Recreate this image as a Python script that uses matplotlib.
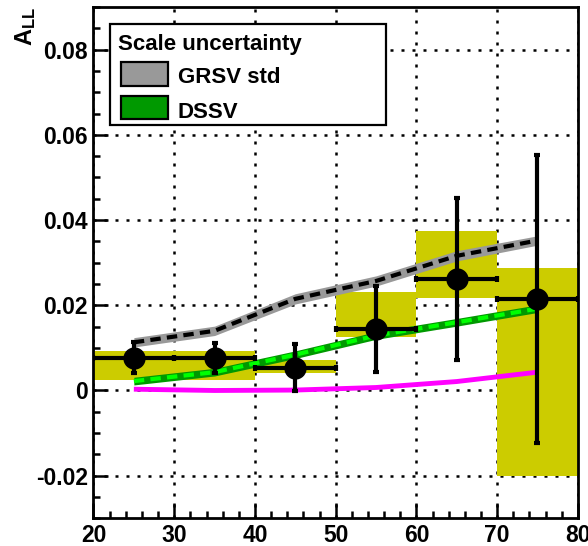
import matplotlib
matplotlib.use("Agg")
import matplotlib.pyplot as plt
from matplotlib.patches import Rectangle
from matplotlib.ticker import MultipleLocator, FuncFormatter

plt.rcParams["font.family"] = ["Liberation Sans", "DejaVu Sans"]
plt.rcParams["font.weight"] = "bold"
plt.rcParams["mathtext.fontset"] = "custom"
plt.rcParams["mathtext.bf"] = "Liberation Sans:bold"
plt.rcParams["mathtext.rm"] = "Liberation Sans:bold"

# measured asymmetry per bin
bin_x = [25, 35, 45, 55, 65, 75]
bin_half = [5, 5, 5, 5, 5, 5]
a_ll = [0.0077, 0.0076, 0.0053, 0.0145, 0.0262, 0.0214]
stat_err = [0.0037, 0.0036, 0.0055, 0.0101, 0.0190, 0.0338]
sys_lo = [0.0025, 0.0025, 0.0040, 0.0125, 0.0218, -0.0200]
sys_hi = [0.0092, 0.0092, 0.0072, 0.0230, 0.0374, 0.0287]

# theory curves
grsv = [0.0113, 0.0140, 0.0215, 0.0257, 0.0316, 0.0352]
grsv_lo = [0.0102, 0.0129, 0.0203, 0.0245, 0.0304, 0.0341]
grsv_hi = [0.0124, 0.0151, 0.0227, 0.0269, 0.0328, 0.0363]
dssv = [0.0022, 0.0043, 0.0084, 0.0129, 0.0160, 0.0192]
dssv_lo = [0.0013, 0.0034, 0.0075, 0.0120, 0.0151, 0.0183]
dssv_hi = [0.0031, 0.0052, 0.0093, 0.0138, 0.0169, 0.0201]
magenta = [0.0003, 0.0000, 0.0001, 0.0007, 0.0021, 0.0043]

YELLOW = "#cccc00"
GRAY = "#999999"
GREEN = "#009900"

fig = plt.figure(figsize=(5.88, 5.46), dpi=100)
ax = fig.add_axes([0.159, 0.0507, 0.8237, 0.9365])

ax.set_xlim(20, 80)
ax.set_ylim(-0.03, 0.09)

ax.grid(True, which="major", color="black", lw=1.8, ls=(0, (1.2, 3.2)), zorder=0)
ax.set_axisbelow(True)

for x, h, lo, hi in zip(bin_x, bin_half, sys_lo, sys_hi):
    ax.add_patch(Rectangle((x - h, lo), 2 * h, hi - lo, facecolor=YELLOW,
                           edgecolor="none", zorder=1))

ax.fill_between(bin_x, grsv_lo, grsv_hi, color=GRAY, lw=0, zorder=2)
ax.plot(bin_x, grsv, color="black", lw=3, ls=(0, (2.5, 1.5)), zorder=3)
ax.fill_between(bin_x, dssv_lo, dssv_hi, color=GREEN, lw=0, zorder=2)
ax.plot(bin_x, dssv, color="#00ff00", lw=3, ls=(0, (2.5, 1.5)), zorder=3)
ax.plot(bin_x, magenta, color="#ff00ff", lw=3.5, solid_capstyle="butt", zorder=3)

ax.errorbar(bin_x, a_ll, xerr=bin_half, yerr=stat_err, fmt="o", color="black",
            ms=15, elinewidth=3, capsize=2.5, capthick=3, zorder=5)

ax.xaxis.set_major_locator(MultipleLocator(10))
ax.xaxis.set_minor_locator(MultipleLocator(2))
ax.yaxis.set_major_locator(MultipleLocator(0.02))
ax.yaxis.set_minor_locator(MultipleLocator(0.005))
ax.yaxis.set_major_formatter(FuncFormatter(
    lambda v, p: "0" if abs(v) < 1e-9 else f"{v:.2f}".replace("\u2212", "-")))
ax.tick_params(which="both", direction="in", top=False, right=False,
               labelsize=16.5, width=1.8)
ax.tick_params(which="major", length=11, pad=4)
ax.tick_params(which="minor", length=5)
for s in ax.spines.values():
    s.set_linewidth(2)

# legend box
ax.add_patch(Rectangle((0.034, 0.769), 0.570, 0.198, transform=ax.transAxes,
                       facecolor="white", edgecolor="black", lw=1.6, zorder=6))
ax.text(0.050, 0.916, "Scale uncertainty", transform=ax.transAxes,
        fontsize=16, fontweight="bold", va="baseline", zorder=7)
ax.add_patch(Rectangle((0.0566, 0.845), 0.097, 0.047, transform=ax.transAxes,
                       facecolor=GRAY, edgecolor="black", lw=1.6, zorder=7))
ax.text(0.174, 0.852, "GRSV std", transform=ax.transAxes,
        fontsize=16, fontweight="bold", va="baseline", zorder=7)
ax.add_patch(Rectangle((0.0566, 0.781), 0.097, 0.045, transform=ax.transAxes,
                       facecolor=GREEN, edgecolor="black", lw=1.6, zorder=7))
ax.text(0.174, 0.783, "DSSV", transform=ax.transAxes,
        fontsize=16, fontweight="bold", va="baseline", zorder=7)

fig.text(13 / 588, 1 - 7 / 546, r"$\mathbf{A_{LL}}$", rotation=90,
         ha="left", va="top", fontsize=17)

fig.savefig("out.png", dpi=100)
